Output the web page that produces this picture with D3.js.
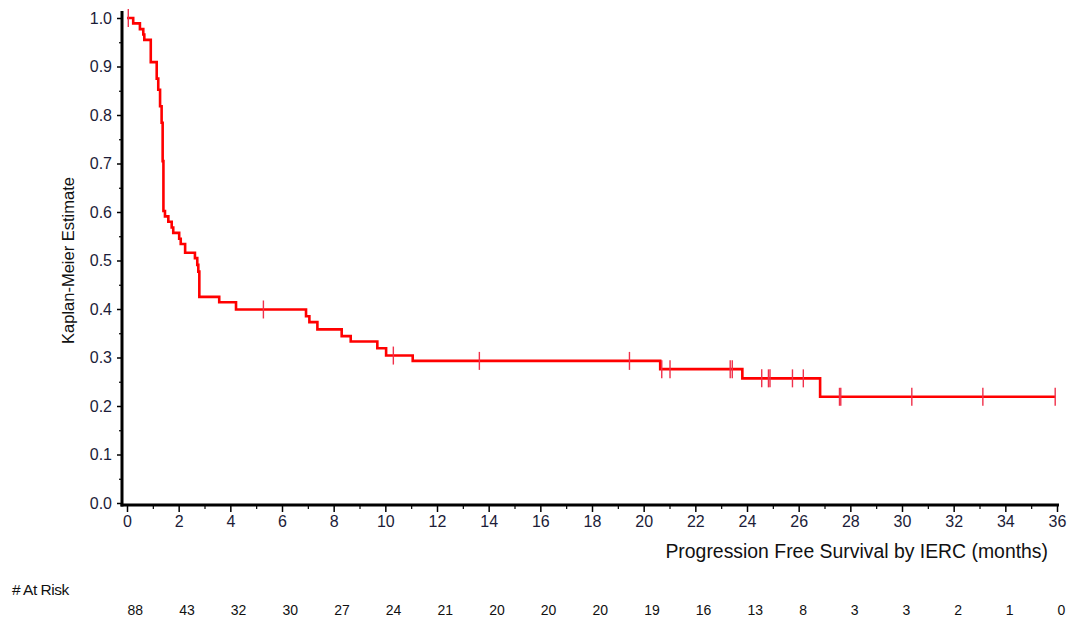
<!DOCTYPE html>
<html>
<head>
<meta charset="utf-8">
<script src="https://cdn.jsdelivr.net/npm/d3@7"></script>
<style>
  html, body { margin: 0; padding: 0; background: #fff; }
  svg { display: block; }
  text { font-family: "Liberation Sans", Arial, sans-serif; }
</style>
</head>
<body>
<svg id="chart" width="1070" height="619"></svg>
<script>
// ---- Data ----
// Event times (months) and Kaplan-Meier survival after each step
const stepTimes = [0, 0.24, 0.50, 0.63, 0.67, 0.92, 1.15, 1.21, 1.28, 1.34, 1.38, 1.41, 1.47, 1.60, 1.73, 1.79,
  2.02, 2.08, 2.25, 2.63, 2.72, 2.76, 2.80, 3.57, 4.22, 6.93, 7.06, 7.37, 8.31, 8.66, 9.69, 10.03, 11.06,
  20.64, 23.82, 26.83];
const stepSurvival = [1.0, 0.989, 0.977, 0.966, 0.955, 0.909, 0.875, 0.852, 0.818, 0.784, 0.705, 0.602, 0.591, 0.580, 0.568, 0.557,
  0.545, 0.534, 0.516, 0.505, 0.491, 0.477, 0.425, 0.414, 0.399, 0.385, 0.373, 0.358, 0.344, 0.333, 0.319, 0.304, 0.293,
  0.276, 0.257, 0.219];
const lastTime = 35.93;
// Censored observation times (months)
const censorTimes = [0.05, 5.28, 10.31, 13.64, 19.45, 20.70, 21.02, 23.35, 23.43, 24.57, 24.83, 24.89, 25.76, 26.18,
  27.58, 27.63, 30.38, 33.13, 35.93];
// Axis ticks
const xTicks = [0, 2, 4, 6, 8, 10, 12, 14, 16, 18, 20, 22, 24, 26, 28, 30, 32, 34, 36];
const xMinorTicks = [1, 3, 5, 7, 9, 11, 13, 15, 17, 19, 21, 23, 25, 27, 29, 31, 33, 35];
const yTicks = [0, 0.1, 0.2, 0.3, 0.4, 0.5, 0.6, 0.7, 0.8, 0.9, 1.0];
const yMinorTicks = [0.05, 0.15, 0.25, 0.35, 0.45, 0.55, 0.65, 0.75, 0.85, 0.95];
// Number at risk at each 2-month tick
const atRiskTimes = [0, 2, 4, 6, 8, 10, 12, 14, 16, 18, 20, 22, 24, 26, 28, 30, 32, 34, 36];
const atRiskCounts = [88, 43, 32, 30, 27, 24, 21, 20, 20, 20, 19, 16, 13, 8, 3, 3, 2, 1, 0];

// ---- Layout ----
const svg = d3.select("#chart");
const x = d3.scaleLinear().domain([0, 36]).range([127, 1057]);
const y = d3.scaleLinear().domain([0, 1]).range([503, 18]);
const axisX = 122;   // y-axis line position
const axisY = 505;   // x-axis line position
const tickColor = "#1c1c38";

// survival lookup
function survAt(t) {
  let s = stepSurvival[0];
  for (let i = 0; i < stepTimes.length; i++) {
    if (stepTimes[i] <= t) s = stepSurvival[i]; else break;
  }
  return s;
}

// ---- X axis ----
const gx = svg.append("g").attr("transform", `translate(0,${axisY})`);
gx.call(d3.axisBottom(x).tickValues(xTicks).tickSize(7).tickPadding(4).tickFormat(d3.format("d")));
gx.select(".domain").remove();
gx.selectAll(".tick line").attr("stroke", "#000").attr("stroke-width", 1.5);
gx.selectAll(".tick text").attr("font-size", 16).attr("fill", tickColor)
  .attr("font-family", "'Liberation Sans', Arial, sans-serif");
const gxm = svg.append("g").attr("transform", `translate(0,${axisY})`);
gxm.call(d3.axisBottom(x).tickValues(xMinorTicks).tickSize(4).tickFormat(""));
gxm.select(".domain").remove();
gxm.selectAll(".tick line").attr("stroke", "#000").attr("stroke-width", 1.2);

// ---- Y axis ----
const gy = svg.append("g").attr("transform", `translate(${axisX},0)`);
gy.call(d3.axisLeft(y).tickValues(yTicks).tickSize(5).tickPadding(5).tickFormat(d3.format(".1f")));
gy.select(".domain").remove();
gy.selectAll(".tick line").attr("stroke", "#000").attr("stroke-width", 1.5);
gy.selectAll(".tick text").attr("font-size", 16).attr("fill", tickColor)
  .attr("font-family", "'Liberation Sans', Arial, sans-serif");
const gym = svg.append("g").attr("transform", `translate(${axisX},0)`);
gym.call(d3.axisLeft(y).tickValues(yMinorTicks).tickSize(3).tickFormat(""));
gym.select(".domain").remove();
gym.selectAll(".tick line").attr("stroke", "#000").attr("stroke-width", 1.2);

// axis lines
svg.append("line").attr("x1", axisX).attr("x2", axisX).attr("y1", 11).attr("y2", axisY + 1.5)
  .attr("stroke", "#000").attr("stroke-width", 3);
svg.append("line").attr("x1", axisX - 1.5).attr("x2", x(36) + 2).attr("y1", axisY).attr("y2", axisY)
  .attr("stroke", "#000").attr("stroke-width", 3);

// ---- Titles ----
svg.append("text")
  .attr("transform", `translate(74,${(y(0) + y(1)) / 2}) rotate(-90)`)
  .attr("text-anchor", "middle")
  .attr("font-size", 16.5).attr("fill", "#111")
  .text("Kaplan-Meier Estimate");
svg.append("text")
  .attr("x", 1048).attr("y", 558)
  .attr("text-anchor", "end")
  .attr("font-size", 19.4).attr("fill", "#111")
  .text("Progression Free Survival by IERC (months)");

// ---- KM curve ----
const pts = stepTimes.map((t, i) => [t, stepSurvival[i]]);
pts.push([lastTime, stepSurvival[stepSurvival.length - 1]]);
const line = d3.line().x(d => x(d[0])).y(d => y(d[1])).curve(d3.curveStepAfter);
svg.append("path").datum(pts).attr("d", line)
  .attr("fill", "none").attr("stroke", "#ff0000").attr("stroke-width", 2.6);

// censor marks
svg.append("g").selectAll("line").data(censorTimes).join("line")
  .attr("x1", d => x(d)).attr("x2", d => x(d))
  .attr("y1", d => y(survAt(d)) - 9).attr("y2", d => y(survAt(d)) + 9)
  .attr("stroke", "#f0304a").attr("stroke-width", 1.4);

// ---- At risk ----
svg.append("text").attr("x", 12).attr("y", 595)
  .attr("font-size", 15.5).attr("fill", "#111").attr("letter-spacing", -0.5)
  .text("# At Risk");
svg.append("g").selectAll("text").data(atRiskTimes).join("text")
  .attr("x", d => x(d) + 0.5).attr("y", 615)
  .attr("font-size", 14).attr("fill", "#111")
  .text((d, i) => atRiskCounts[i]);
</script>
</body>
</html>
